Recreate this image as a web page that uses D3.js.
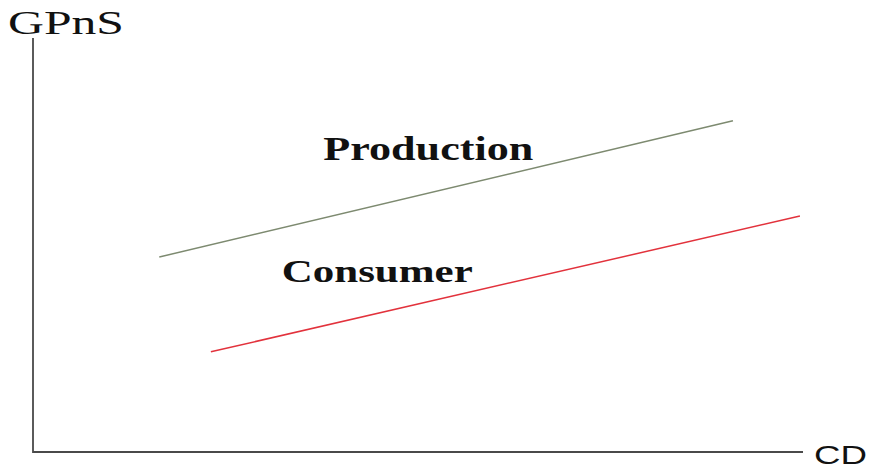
<!DOCTYPE html>
<html>
<head>
<meta charset="utf-8">
<script src="https://cdn.jsdelivr.net/npm/d3@7"></script>
<style>
  body { margin: 0; background: #fff; }
</style>
</head>
<body>
<div class="chart"></div>
<script>
// curve endpoints, in axis units (0-100)
var seriesNames = ["Production", "Consumer"];
var productionPoints = [[16.4, 47.1], [90.9, 80.0]];
var consumerPoints = [[23.1, 24.2], [99.6, 57.0]];
var labelPoints = [[37.7, 70.5], [32.3, 41.1]];
var axisTitles = ["GPnS", "CD"];

var width = 871, height = 470;

var svg = d3.select(".chart").append("svg")
    .attr("width", width)
    .attr("height", height);

var x = d3.scaleLinear().domain([0, 100]).range([33, 803]);
var y = d3.scaleLinear().domain([0, 100]).range([452, 38]);

//axes
svg.append("path")
    .attr("d", `M${x(0)},${y(100)}V${y(0)}H${x(100)}`)
    .attr("fill", "none")
    .attr("stroke", "#4a4a4a")
    .attr("stroke-width", 1.8);

var line = d3.line()
    .x(d => x(d[0]))
    .y(d => y(d[1]));

//lines
var colors = ["#7d8a70", "#e2323c"];
svg.selectAll(".series")
    .data([productionPoints, consumerPoints])
    .join("path")
    .attr("class", "series")
    .attr("d", line)
    .attr("fill", "none")
    .attr("stroke", (d, i) => colors[i])
    .attr("stroke-width", 1.5);

//labels
var labelSizes = [34, 32];
var labelWidths = [210, 191];
svg.selectAll(".label")
    .data(seriesNames)
    .join("text")
    .attr("class", "label")
    .attr("x", (d, i) => x(labelPoints[i][0]))
    .attr("y", (d, i) => y(labelPoints[i][1]))
    .attr("font-family", "'Liberation Serif', 'DejaVu Serif', serif")
    .attr("font-weight", "bold")
    .attr("font-size", (d, i) => labelSizes[i])
    .attr("textLength", (d, i) => labelWidths[i])
    .attr("lengthAdjust", "spacingAndGlyphs")
    .attr("fill", "#111")
    .text(d => d);

//axis titles
svg.append("text")
    .attr("x", 8)
    .attr("y", 34)
    .attr("font-family", "'Liberation Serif', serif")
    .attr("font-size", 33)
    .attr("textLength", 116)
    .attr("lengthAdjust", "spacingAndGlyphs")
    .attr("fill", "#111")
    .text(axisTitles[0]);

svg.append("text")
    .attr("x", 814)
    .attr("y", 464)
    .attr("font-family", "'Liberation Sans', Arial, sans-serif")
    .attr("font-size", 25)
    .attr("textLength", 53)
    .attr("lengthAdjust", "spacingAndGlyphs")
    .attr("fill", "#111")
    .text(axisTitles[1]);
</script>
</body>
</html>
